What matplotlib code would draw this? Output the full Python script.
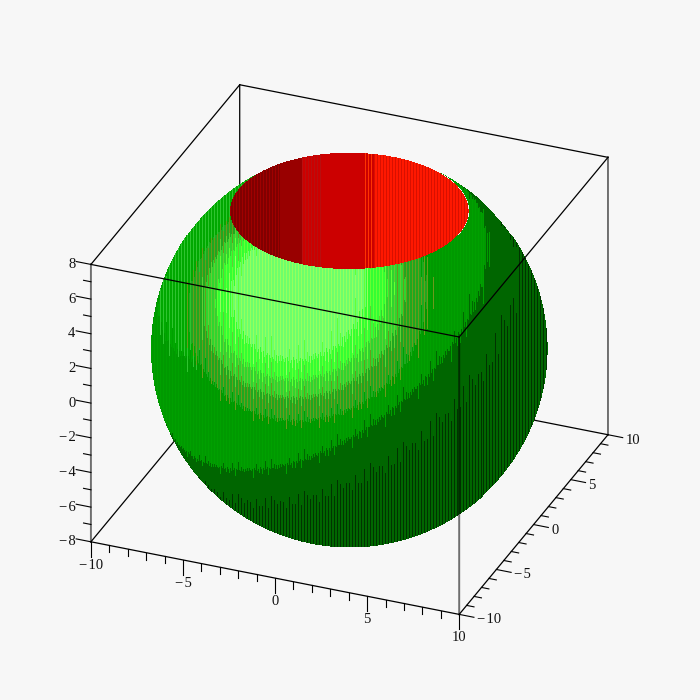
import numpy as np
import matplotlib
matplotlib.use('Agg')
import matplotlib.pyplot as plt
from mpl_toolkits.mplot3d import proj3d
from mpl_toolkits.mplot3d.art3d import Poly3DCollection

plt.rcParams['font.family'] = ['Liberation Serif', 'DejaVu Serif']

BG = '#f7f7f7'
RADIUS = 10.0
ZCAP = 8.0
ELEV = 29.2
AZIM = -68.0
STRIPE = 0.0503   # one screen pixel in data units

xticks = [-10, -5, 0, 5, 10]
yticks = [-10, -5, 0, 5, 10]
zticks = [-8, -6, -4, -2, 0, 2, 4, 6, 8]
xminor = [-9, -8, -7, -6, -4, -3, -2, -1, 1, 2, 3, 4, 6, 7, 8, 9]
yminor = xminor
zminor = [-7, -5, -3, -1, 1, 3, 5, 7]

# highlight bands, brightness against the front light, high to low
spot_dir = [-0.27, 0.30, 0.915]
spot_levels = [0.935, 0.895, 0.85, 0.78]
spot_main = ['#6cff6c', '#33ff33', '#2fd52f', '#1fa81f']
spot_alt = ['#96ff5c', '#66ff33', '#66cc33', '#6b9b1b']
# body bands, brightness against the side light
side_dir = [-0.522, 0.617, 0.593]
side_levels = [0.74, 0.25, 0.02]
side_main = ['#00a800', '#009900', '#006600', '#006600']
side_alt = ['#2fc42f', '#00a000', '#006600', '#003300']
stripe_jag = [0.0, 0.06, -0.04, 0.10, -0.08, 0.03, -0.06, 0.08, -0.02, 0.05, -0.10]

# red top, bands by screen position
cap_edges = [-5.95, -3.5, -2.4, -1.4, 0.75, 1.25, 6.0]
cap_main = ['#800000', '#990000', '#cc0000', '#cc0000', '#cc0000', '#ff1800']
cap_alt = ['#a00000', '#990000', '#b80f0f', '#cc0000', '#ff3300', '#d81000']

# view basis
el, az = np.radians(ELEV), np.radians(AZIM)
right = np.array([-np.sin(az), np.cos(az), 0.0])
up = np.array([-np.sin(el)*np.cos(az), -np.sin(el)*np.sin(az), np.cos(el)])
toward = np.cross(right, up)


def to_xyz(u, w, n):
    return u*right + w*up + n*toward


def color_of(u, w, n, i):
    # alternate strips wander further over the band limits
    jag = stripe_jag[i % len(stripe_jag)]*(1.0 if i % 3 == 0 else 0.2)
    spot = (spot_dir[0]*u + spot_dir[1]*w + spot_dir[2]*n)/RADIUS + jag*0.3
    for level, c1, c2 in zip(spot_levels, spot_main, spot_alt):
        if spot > level:
            return c2 if i % 3 == 0 else c1
    side = (side_dir[0]*u + side_dir[1]*w + side_dir[2]*n)/RADIUS + jag*0.5
    band = 0
    for level in side_levels:
        if side < level:
            band += 1
    return side_alt[band] if i % 3 == 0 else side_main[band]


# sphere strips
polys = []
colors = []
wgrid = np.arange(-RADIUS, RADIUS + STRIPE, STRIPE)
ustrips = np.arange(-RADIUS, RADIUS, STRIPE)
for i, u in enumerate(ustrips):
    uc = u + STRIPE/2
    run_start = None
    run_color = None
    for w in wgrid:
        r2 = RADIUS**2 - uc**2 - w**2
        c = None
        if r2 > 0:
            n = np.sqrt(r2)
            if to_xyz(uc, w, n)[2] <= ZCAP:
                c = color_of(uc, w, n, i)
        if c != run_color:
            if run_color is not None:
                polys.append([to_xyz(u, run_start, 0), to_xyz(u + STRIPE, run_start, 0),
                              to_xyz(u + STRIPE, w, 0), to_xyz(u, w, 0)])
                colors.append(run_color)
            run_start = w
            run_color = c

# cap strips
cap_polys = []
cap_colors = []
cap_r = np.sqrt(RADIUS**2 - ZCAP**2)
ucap = np.arange(-cap_r, cap_r, STRIPE)
along = np.array([-right[1], right[0], 0.0])
for i, u in enumerate(ucap):
    uc = u + STRIPE/2
    half = np.sqrt(cap_r**2 - uc**2)
    k = max(min(int(np.searchsorted(cap_edges, uc)) - 1, len(cap_main) - 1), 0)
    c = uc*right + np.array([0, 0, ZCAP])
    p1, p2 = c - half*along, c + half*along
    cap_polys.append([p1 - 0.5*STRIPE*right, p1 + 0.5*STRIPE*right,
                      p2 + 0.5*STRIPE*right, p2 - 0.5*STRIPE*right])
    cap_colors.append(cap_alt[k] if i % 3 == 0 else cap_main[k])

fig = plt.figure(figsize=(7, 7), dpi=100, facecolor=BG)
ax = fig.add_axes([-0.0143, -0.0129, 1, 1], projection='3d', facecolor=BG)
ax.patch.set_visible(False)
ax.computed_zorder = False
ax.set_proj_type('ortho')
ax.view_init(elev=ELEV, azim=AZIM)
ax.set_box_aspect((20, 20, 16), zoom=0.895)
ax.set_xlim(-10, 10)
ax.set_ylim(-10, 10)
ax.set_zlim(-8, 8)
ax.set_axis_off()

# box edges
xa, xb, ya, yb, za, zb = -10, 10, -10, 10, -8, 8
back = [([xa, xb], [yb, yb], [za, za]), ([xa, xa], [ya, yb], [za, za]),
        ([xa, xa], [yb, yb], [za, zb]), ([xa, xb], [yb, yb], [zb, zb]),
        ([xa, xa], [ya, yb], [zb, zb]), ([xa, xb], [ya, ya], [za, za]),
        ([xb, xb], [ya, yb], [za, za])]
front = [([xa, xb], [ya, ya], [zb, zb]), ([xb, xb], [ya, yb], [zb, zb])]
for ex, ey, ez in back:
    ax.plot(ex, ey, ez, color='black', lw=0.9, zorder=1, snap=False)
for ex, ey, ez in front:
    ax.plot(ex, ey, ez, color='black', lw=0.9, zorder=6, snap=False)
# the three outer uprights read grey and wide
ax.plot([xa, xa], [ya, ya], [za, zb], color='black', alpha=0.55, lw=1.4, zorder=1, snap=False)
ax.plot([xb, xb], [yb, yb], [za, zb], color='black', alpha=0.55, lw=1.4, zorder=1, snap=False)
ax.plot([xb, xb], [ya, ya], [za, zb], color='black', alpha=0.55, lw=1.4, zorder=6, snap=False)

ax.add_collection3d(Poly3DCollection(polys, facecolors=colors, edgecolors='none', linewidths=0,
                                     antialiaseds=False, zorder=2))
ax.add_collection3d(Poly3DCollection(cap_polys, facecolors=cap_colors, edgecolors='none', linewidths=0,
                                     antialiaseds=False, zorder=3))

M = ax.get_proj()


def label(x, y, z, v, ha):
    # project once so the text sits in the axes' 2D coordinates
    px, py, _ = proj3d.proj_transform(x, y, z, M)
    s = str(v).replace('-', '\u2212\u200a')
    ax.text2D(px, py, s, transform=ax.transData, ha=ha, va='center', fontsize=10.5, color='#111111')


# ticks
for v in xticks:
    ax.plot([v, v], [ya, ya], [za, za - 0.86], color='black', lw=0.8, zorder=6)
    label(v, ya, za - 1.35, v, 'center')
for v in xminor:
    ax.plot([v, v], [ya, ya], [za, za - 0.4], color='black', lw=0.8, zorder=6)
for v in yticks:
    ax.plot([xb, xb + 0.8], [v, v], [za, za], color='black', lw=0.8, zorder=6)
    label(xb + 0.95, v, za - 0.12, v, 'left')
for v in yminor:
    ax.plot([xb, xb + 0.4], [v, v], [za, za], color='black', lw=0.8, zorder=6)
for v in zticks:
    ax.plot([xa, xa - 0.8], [ya, ya], [v, v], color='black', lw=0.8, zorder=6)
    label(xa - 0.85, ya, v - 0.18, v, 'right')
for v in zminor:
    ax.plot([xa, xa - 0.4], [ya, ya], [v, v], color='black', lw=0.8, zorder=6)

fig.savefig('out.png', dpi=100, facecolor=BG)
